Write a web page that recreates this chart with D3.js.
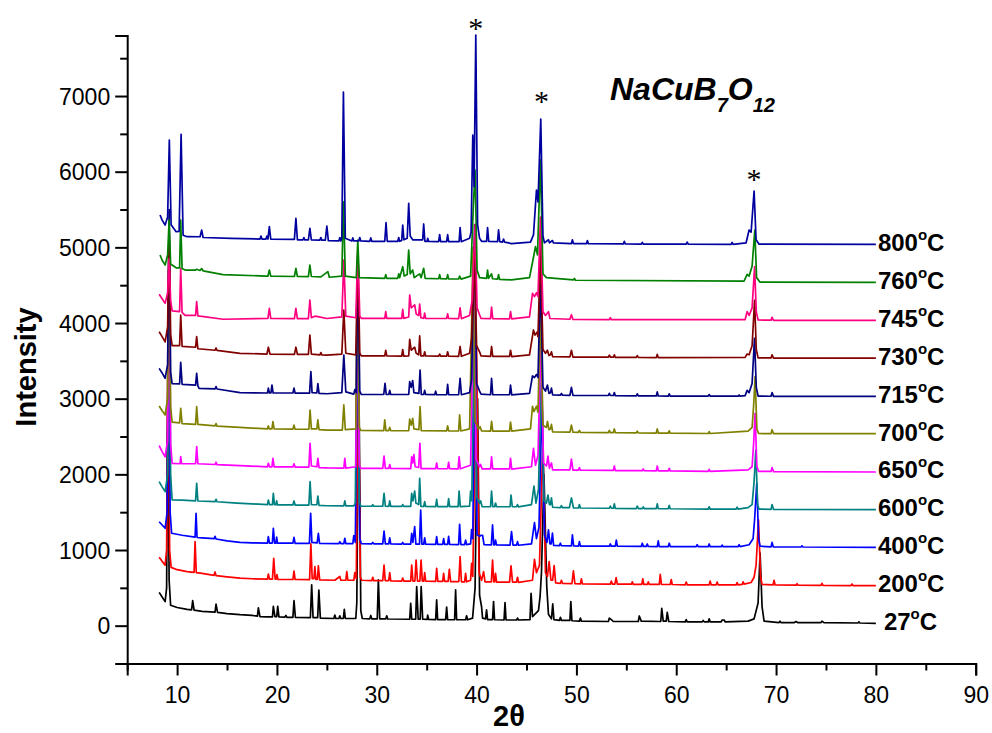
<!DOCTYPE html>
<html>
<head>
<meta charset="utf-8">
<script src="https://cdn.jsdelivr.net/npm/d3@7/dist/d3.min.js"></script>
<style>
  body { margin: 0; background: #fff; }
  svg { display: block; }
</style>
</head>
<body>
<svg id="chart" width="992" height="733"></svg>
<script>
// Stacked XRD patterns of NaCuB7O12 annealed at different temperatures.
const temperatures = ["27", "200", "400", "600", "650", "700", "715", "730", "745", "760", "800"];
const offsets = [0, 500, 1000, 1500, 2000, 2500, 3000, 3500, 4000, 4500, 5000];
const colors = ["#000000", "#ff0000", "#0000ff", "#008080", "#ff00ff", "#808000",
                "#000080", "#800000", "#ff0080", "#008000", "#0000a0"];
const xMajorTicks = [10, 20, 30, 40, 50, 60, 70, 80, 90];
const xMinorTicks = [5, 15, 25, 35, 45, 55, 65, 75, 85];
const yMajorTicks = [0, 1000, 2000, 3000, 4000, 5000, 6000, 7000];
const yMinorTicks = [-500, 500, 1500, 2500, 3500, 4500, 5500, 6500, 7500];
// asterisks over the strongest reflections: [2theta, intensity]
const starMarks = [[39.92, 7820], [46.5, 6850], [67.8, 5830]];

// Patterns as flat [2theta, intensity, 2theta, intensity, ...] lists (offset included)
const xrd27 = [8.2,440, 8.5,380, 8.8,318, 8.95,500, 9.06,3300, 9.2,600, 9.35,270, 10,240, 11,215, 11.45,210, 11.56,330, 11.7,205, 12.5,190, 13.8,180, 13.9,285, 14.05,175, 15,160, 16.3,145, 17.5,135, 18.05,125, 18.14,235, 18.3,120, 19,115, 19.55,115, 19.64,255, 19.8,120, 19.98,120, 20.08,255, 20.2,115, 20.8,112, 20.9,135, 21.0,110, 21.6,110, 21.71,330, 21.85,108, 23.35,105, 23.48,540, 23.62,105, 24.08,105, 24.2,470, 24.35,100, 25.7,95, 25.8,140, 25.9,95, 26.2,95, 26.3,130, 26.4,95, 26.65,95, 26.75,215, 26.85,95, 27.9,95, 28.0,300, 28.2,3400, 28.4,200, 28.55,95, 29.3,90, 29.4,135, 29.5,90, 30.05,90, 30.16,604, 30.3,90, 30.9,90, 31.0,130, 31.1,88, 33.3,85, 33.4,296, 33.5,85, 33.9,85, 34.0,516, 34.15,85, 34.35,85, 34.45,516, 34.6,85, 35.05,82, 35.1,140, 35.2,82, 35.9,80, 36.0,340, 36.1,80, 36.9,80, 37.0,247, 37.1,80, 37.8,78, 37.9,472, 38.0,78, 38.9,78, 39.0,130, 39.1,78, 39.6,100, 39.85,500, 40.1,3000, 40.3,400, 40.5,250, 40.6,100, 40.9,90, 41.0,210, 41.1,80, 41.6,80, 41.7,318, 41.8,78, 42.75,75, 42.85,304, 42.95,75, 44.0,75, 44.1,100, 44.2,75, 45.35,80, 45.46,428, 45.6,120, 46.2,200, 46.36,383, 46.5,700, 46.75,2000, 47.03,516, 47.2,150, 47.5,90, 47.63,287, 47.75,80, 48.3,70, 48.4,110, 48.5,70, 49.35,70, 49.44,318, 49.55,65, 50.3,60, 50.4,100, 50.5,60, 53.2,55, 53.3,100, 53.5,80, 53.7,55, 56.2,55, 56.3,128, 56.5,60, 58.45,55, 58.55,230, 58.7,60, 59.0,60, 59.1,177, 59.25,55, 60.9,50, 61.0,80, 61.1,50, 62.6,50, 62.7,70, 62.8,50, 63.2,50, 63.3,90, 63.4,50, 64.5,50, 64.6,75, 64.8,75, 64.9,50, 67.2,60, 67.8,90, 68.2,300, 68.4,960, 68.6,250, 68.8,60, 70.3,40, 70.4,60, 70.5,40, 71.8,40, 72,55, 72.2,40, 74.5,40, 74.6,60, 74.8,40, 78.2,35, 78.3,50, 78.4,35, 80,30];

const xrd200 = [8.2,904, 8.5,850, 8.8,800, 8.95,1000, 9.1,4200, 9.25,1000, 9.4,770, 10,740, 11,715, 11.7,705, 11.8,1110, 11.92,700, 12.5,690, 13.7,665, 13.8,710, 13.9,662, 15,645, 16.3,628, 17.5,620, 19.05,615, 19.14,683, 19.25,615, 19.55,615, 19.68,890, 19.82,615, 19.92,615, 20.0,676, 20.1,612, 21.6,610, 21.71,720, 21.82,610, 23.27,608, 23.4,1080, 23.53,620, 23.7,620, 23.8,780, 23.9,610, 24.05,610, 24.15,790, 24.28,605, 25.8,600, 26.3,650, 26.4,600, 26.9,600, 27.0,714, 27.1,600, 27.7,600, 27.8,700, 27.95,620, 28.15,3800, 28.35,640, 28.5,600, 29.5,595, 29.6,640, 29.7,595, 30.6,595, 30.73,802, 30.85,595, 31.2,595, 31.3,700, 31.4,592, 32.5,590, 32.6,630, 32.7,590, 33.4,590, 33.5,802, 33.62,590, 33.82,590, 33.94,868, 34.08,590, 34.32,590, 34.44,868, 34.56,590, 34.7,590, 34.8,700, 34.9,588, 35.9,585, 36.0,758, 36.12,585, 36.6,585, 36.7,690, 36.8,585, 37.15,585, 37.27,745, 37.4,583, 38.22,583, 38.35,912, 38.48,580, 38.8,580, 38.9,690, 39.0,580, 39.4,600, 39.5,824, 39.62,650, 40.0,3700, 40.25,700, 40.5,600, 40.7,714, 40.85,580, 41.48,578, 41.6,868, 41.72,578, 41.8,578, 41.9,690, 42.0,575, 43.3,575, 43.45,790, 43.6,575, 44.0,575, 44.1,640, 44.2,572, 45.6,600, 45.8,877, 46.0,700, 46.3,800, 46.65,2480, 46.9,700, 47.1,650, 47.27,846, 47.45,600, 47.62,600, 47.77,793, 47.92,565, 48.4,560, 48.5,600, 48.6,560, 49.55,555, 49.7,723, 49.85,555, 50.4,552, 50.5,620, 50.6,552, 53.4,550, 53.5,590, 53.6,550, 53.85,550, 53.98,634, 54.1,548, 55.5,548, 55.6,580, 55.7,546, 56.55,546, 56.65,620, 56.75,545, 57.1,545, 57.2,580, 57.3,545, 58.3,545, 58.4,679, 58.52,544, 59.4,544, 59.5,610, 59.6,544, 60.9,540, 61.0,575, 61.1,540, 63.3,540, 63.4,590, 63.5,540, 64.0,540, 64.1,575, 64.2,540, 66.0,540, 66.1,570, 66.2,540, 66.6,545, 66.7,580, 66.8,550, 67.5,570, 67.8,640, 68.0,800, 68.24,1397, 68.45,650, 68.6,545, 69.7,540, 69.8,600, 69.9,538, 72.0,535, 72.1,555, 72.2,535, 74.5,533, 74.6,560, 74.7,533, 77.5,530, 77.6,550, 77.7,530, 80,528];

const xrd400 = [8.2,1374, 8.5,1330, 8.8,1287, 9.0,1500, 9.15,4700, 9.3,1500, 9.45,1221, 10.5,1195, 11.8,1170, 11.9,1485, 12.0,1165, 12.5,1160, 13.7,1150, 13.8,1180, 13.9,1145, 15.0,1120, 16.3,1100, 17.5,1095, 19.05,1092, 19.14,1176, 19.25,1092, 19.54,1092, 19.64,1287, 19.76,1092, 19.9,1090, 19.97,1170, 20.05,1090, 21.6,1090, 21.71,1168, 21.82,1088, 23.25,1088, 23.38,1485, 23.5,1100, 24.03,1095, 24.15,1221, 24.27,1088, 26.2,1085, 26.3,1110, 26.4,1085, 26.7,1085, 26.8,1155, 26.9,1085, 27.6,1085, 27.7,1190, 27.85,1100, 28.1,4100, 28.3,1150, 28.45,1085, 29.5,1082, 29.6,1100, 29.7,1082, 30.6,1080, 30.73,1251, 30.86,1080, 31.2,1080, 31.3,1160, 31.4,1080, 32.5,1078, 32.6,1100, 32.7,1078, 33.4,1078, 33.5,1221, 33.62,1100, 33.8,1308, 33.92,1078, 34.28,1078, 34.4,1529, 34.52,1078, 34.7,1076, 34.8,1160, 34.9,1076, 35.9,1075, 36.0,1176, 36.1,1075, 36.6,1074, 36.7,1150, 36.8,1074, 37.1,1074, 37.2,1180, 37.3,1074, 38.2,1072, 38.3,1340, 38.42,1072, 38.8,1072, 38.9,1130, 39.0,1072, 39.4,1080, 39.5,1270, 39.62,1150, 39.85,4000, 40.05,1200, 40.3,1180, 40.45,1195, 40.6,1195, 40.75,1070, 41.48,1068, 41.6,1331, 41.72,1068, 41.8,1068, 41.9,1130, 42.0,1066, 43.35,1065, 43.5,1242, 43.65,1065, 44.0,1065, 44.1,1110, 44.2,1063, 45.5,1080, 45.8,1361, 46.0,1150, 46.25,1300, 46.55,3000, 46.8,1200, 47.05,1100, 47.2,1265, 47.35,1080, 47.48,1080, 47.6,1225, 47.72,1060, 48.3,1058, 48.4,1090, 48.5,1056, 49.5,1055, 49.6,1200, 49.72,1055, 50.2,1052, 50.3,1110, 50.4,1052, 53.3,1050, 53.4,1080, 53.5,1050, 53.9,1050, 54.0,1130, 54.1,1050, 56.5,1048, 56.6,1090, 56.7,1048, 57.0,1048, 57.1,1080, 57.2,1048, 58.1,1046, 58.2,1120, 58.3,1046, 59.2,1046, 59.3,1090, 59.4,1046, 62.0,1044, 62.1,1070, 62.2,1044, 63.2,1044, 63.3,1080, 63.4,1044, 64.5,1044, 64.6,1065, 64.7,1044, 66.2,1044, 66.3,1070, 66.4,1044, 67.3,1070, 67.7,1150, 67.85,1400, 68.07,1881, 68.25,1150, 68.4,1050, 69.5,1042, 69.6,1100, 69.72,1042, 72.5,1040, 72.6,1055, 72.7,1040, 80,1036];

const xrd600 = [8.2,1903, 8.5,1835, 8.8,1771, 9.05,2000, 9.2,5200, 9.35,2000, 9.5,1661, 10.5,1660, 11.85,1650, 11.96,1882, 12.08,1648, 13.8,1640, 13.9,1670, 14.0,1638, 16.0,1620, 17.5,1610, 19.05,1600, 19.14,1661, 19.25,1600, 19.55,1600, 19.64,1750, 19.75,1600, 19.9,1598, 19.97,1650, 20.05,1596, 21.6,1596, 21.71,1648, 21.82,1594, 23.2,1594, 23.32,1903, 23.45,1600, 24.0,1598, 24.1,1714, 24.22,1590, 25.0,1585, 26.7,1583, 26.8,1650, 26.9,1583, 27.7,1583, 27.85,1620, 28.05,4400, 28.25,1640, 28.4,1580, 29.5,1578, 29.6,1600, 29.7,1578, 30.6,1578, 30.73,1750, 30.86,1578, 31.2,1577, 31.3,1650, 31.4,1577, 32.5,1576, 32.6,1600, 32.7,1576, 33.4,1576, 33.5,1750, 33.62,1650, 33.8,1780, 33.92,1620, 34.2,1600, 34.3,1948, 34.42,1576, 34.7,1575, 34.8,1640, 34.9,1575, 35.9,1574, 36.0,1670, 36.1,1574, 37.1,1574, 37.2,1680, 37.3,1574, 38.15,1573, 38.25,1780, 38.37,1573, 39.3,1580, 39.4,1780, 39.52,1650, 39.8,4500, 40.0,1700, 40.3,1620, 40.4,1650, 40.55,1573, 41.4,1572, 41.5,1780, 41.62,1572, 41.8,1572, 41.9,1620, 42.0,1572, 43.35,1572, 43.45,1727, 43.58,1572, 44.0,1572, 44.1,1600, 44.2,1571, 45.5,1600, 45.75,1846, 45.95,1620, 46.2,1800, 46.5,3400, 46.75,1650, 47.0,1620, 47.15,1727, 47.3,1600, 47.4,1600, 47.5,1690, 47.62,1565, 48.4,1560, 48.5,1585, 48.6,1560, 49.3,1560, 49.5,1690, 49.7,1558, 50.2,1555, 50.3,1600, 50.4,1555, 53.3,1552, 53.4,1580, 53.5,1552, 53.7,1552, 53.8,1610, 53.9,1550, 56.0,1548, 56.1,1580, 56.2,1548, 56.6,1548, 56.7,1570, 56.8,1548, 58.0,1546, 58.1,1610, 58.2,1546, 59.2,1545, 59.3,1590, 59.4,1545, 63.2,1540, 63.3,1570, 63.4,1540, 66.0,1540, 66.1,1565, 66.2,1540, 67.2,1560, 67.6,1600, 67.8,1900, 67.97,2322, 68.15,1600, 68.3,1540, 69.5,1538, 69.6,1600, 69.75,1536, 80,1533];

const xrd650 = [8.2,2379, 8.5,2300, 8.8,2233, 9.05,2450, 9.2,5000, 9.35,2400, 9.5,2146, 10.3,2140, 10.36,2233, 10.45,2140, 11.85,2140, 11.96,2366, 12.08,2140, 13.8,2130, 13.9,2160, 14.0,2128, 16.3,2115, 19.05,2100, 19.14,2146, 19.25,2100, 19.5,2100, 19.6,2212, 19.72,2100, 21.6,2098, 21.71,2140, 21.82,2096, 23.2,2096, 23.32,2410, 23.45,2110, 24.0,2100, 24.1,2212, 24.22,2090, 25.0,2085, 26.7,2083, 26.8,2212, 26.9,2083, 27.9,2100, 28.05,4600, 28.25,2120, 28.4,2080, 30.6,2078, 30.73,2240, 30.86,2078, 31.2,2078, 31.3,2130, 31.4,2078, 33.4,2076, 33.5,2230, 33.62,2150, 33.72,2260, 33.85,2100, 34.2,2090, 34.32,2410, 34.44,2076, 35.9,2075, 36.0,2150, 36.1,2075, 37.1,2074, 37.2,2160, 37.3,2074, 38.15,2073, 38.25,2230, 38.37,2073, 39.4,2120, 39.75,4800, 39.95,2200, 40.3,2100, 40.4,2130, 40.55,2073, 41.4,2072, 41.5,2230, 41.62,2072, 43.3,2072, 43.4,2210, 43.52,2070, 45.5,2100, 45.7,2344, 45.9,2120, 46.15,2250, 46.45,3800, 46.7,2150, 47.0,2110, 47.15,2240, 47.3,2080, 47.5,2150, 47.62,2060, 49.35,2058, 49.5,2200, 49.65,2057, 50.2,2055, 50.3,2090, 50.4,2055, 53.7,2052, 53.8,2110, 53.9,2050, 56.6,2048, 56.7,2070, 56.8,2048, 58.0,2046, 58.1,2110, 58.2,2046, 59.2,2045, 59.3,2080, 59.4,2045, 63.2,2040, 63.3,2065, 63.4,2040, 67.2,2060, 67.6,2100, 67.75,2400, 67.9,2807, 68.08,2100, 68.25,2040, 69.5,2038, 69.6,2090, 69.75,2036, 80,2031];

const xrd700 = [8.2,2903, 8.5,2840, 8.8,2785, 9.05,3000, 9.2,5300, 9.35,2900, 9.5,2690, 10.25,2680, 10.36,2873, 10.5,2670, 11.85,2660, 11.96,2894, 12.08,2660, 13.8,2640, 13.9,2670, 14.0,2638, 16.3,2620, 19.05,2600, 19.14,2640, 19.25,2600, 19.5,2600, 19.6,2696, 19.72,2600, 21.6,2598, 21.71,2650, 21.82,2596, 23.2,2596, 23.32,2850, 23.45,2600, 24.0,2600, 24.1,2720, 24.22,2590, 25.0,2585, 26.55,2585, 26.7,2917, 26.85,2590, 27.9,2600, 28.05,4700, 28.25,2620, 28.4,2580, 30.7,2578, 30.8,2720, 30.92,2578, 31.2,2578, 31.3,2620, 31.4,2578, 33.2,2576, 33.3,2730, 33.45,2650, 33.6,2740, 33.72,2600, 34.22,2590, 34.34,2894, 34.46,2576, 37.0,2574, 37.1,2640, 37.2,2574, 38.2,2573, 38.3,2785, 38.42,2573, 39.3,2600, 39.65,5000, 39.85,2700, 40.2,2600, 40.35,2630, 40.5,2573, 41.4,2572, 41.5,2700, 41.62,2572, 43.3,2572, 43.4,2690, 43.52,2570, 45.4,2600, 45.6,2900, 45.75,2830, 46.0,2900, 46.15,2820, 46.4,4200, 46.65,2650, 47.0,2620, 47.1,2700, 47.25,2590, 47.4,2600, 47.5,2660, 47.62,2560, 49.35,2558, 49.5,2650, 49.65,2557, 50.2,2555, 50.3,2580, 50.4,2555, 53.2,2552, 53.3,2580, 53.4,2552, 53.7,2552, 53.8,2600, 53.9,2550, 56.0,2548, 56.1,2570, 56.2,2548, 58.0,2546, 58.1,2600, 58.2,2546, 59.2,2545, 59.3,2575, 59.4,2545, 63.2,2540, 63.3,2565, 63.4,2540, 67.2,2570, 67.6,2620, 67.75,2900, 67.9,3291, 68.08,2600, 68.25,2540, 69.5,2538, 69.6,2590, 69.75,2537, 80,2537];

const xrd715 = [8.2,3401, 8.5,3340, 8.8,3270, 9.05,3450, 9.2,5500, 9.35,3350, 9.5,3200, 10.25,3195, 10.36,3480, 10.5,3190, 11.85,3180, 11.96,3335, 12.08,3170, 12.2,3137, 13.8,3130, 13.9,3160, 14.0,3128, 16.3,3080, 19.05,3075, 19.14,3140, 19.25,3075, 19.4,3075, 19.5,3181, 19.62,3075, 21.6,3075, 21.71,3140, 21.82,3073, 23.27,3073, 23.4,3357, 23.52,3080, 24.0,3075, 24.1,3200, 24.22,3070, 25.0,3065, 26.5,3080, 26.7,3577, 26.9,3090, 27.7,3060, 27.8,3120, 27.95,3080, 28.1,4800, 28.3,3100, 28.45,3055, 30.7,3055, 30.83,3203, 30.95,3055, 31.2,3055, 31.3,3110, 31.4,3055, 33.2,3055, 33.3,3225, 33.45,3150, 33.6,3240, 33.72,3080, 34.22,3070, 34.34,3379, 34.46,3055, 34.7,3055, 34.8,3110, 34.9,3055, 35.8,3053, 35.9,3100, 36.0,3053, 37.0,3052, 37.1,3190, 37.2,3052, 38.2,3052, 38.35,3270, 38.48,3052, 39.3,3080, 39.5,3250, 39.8,5300, 40.0,3200, 40.3,3100, 40.45,3060, 41.4,3052, 41.5,3270, 41.62,3052, 43.3,3052, 43.4,3180, 43.52,3050, 45.3,3070, 45.6,3300, 45.8,3280, 46.0,3320, 46.15,3280, 46.4,4600, 46.65,3150, 46.9,3100, 47.1,3180, 47.25,3070, 47.4,3080, 47.5,3140, 47.62,3050, 48.4,3048, 48.5,3070, 48.6,3048, 49.35,3045, 49.5,3150, 49.65,3045, 53.2,3042, 53.3,3070, 53.4,3042, 53.7,3042, 53.8,3080, 53.9,3040, 56.0,3038, 56.1,3065, 56.2,3038, 58.0,3036, 58.1,3090, 58.2,3036, 59.2,3035, 59.3,3065, 59.4,3035, 63.2,3033, 63.3,3055, 63.4,3033, 66.2,3033, 66.3,3050, 66.4,3033, 66.9,3040, 67.1,3110, 67.3,3080, 67.6,3200, 67.84,3798, 68.02,3150, 68.2,3035, 69.5,3032, 69.6,3080, 69.75,3031, 80,3031];

const xrd730 = [8.2,3885, 8.5,3820, 8.8,3750, 9.05,3950, 9.2,5300, 9.35,3850, 9.5,3700, 10.25,3700, 10.36,4106, 10.5,3690, 11.85,3680, 11.96,3819, 12.08,3660, 13.8,3640, 13.9,3670, 14.0,3638, 16.3,3600, 19.0,3590, 19.14,3680, 19.3,3590, 21.75,3585, 21.9,3680, 22.05,3585, 23.15,3585, 23.3,3841, 23.45,3590, 24.3,3580, 24.4,3610, 24.5,3578, 25.0,3575, 26.5,3590, 26.7,4172, 26.9,3600, 27.9,3580, 28.1,4900, 28.3,3600, 28.45,3565, 30.8,3565, 30.9,3640, 31.0,3565, 32.5,3563, 32.6,3650, 32.7,3563, 33.2,3565, 33.3,3785, 33.45,3640, 33.8,3680, 33.95,3600, 34.2,3580, 34.3,3829, 34.42,3565, 34.7,3565, 34.8,3620, 34.9,3565, 36.2,3562, 36.3,3590, 36.4,3562, 37.0,3562, 37.1,3620, 37.2,3562, 38.2,3560, 38.35,3690, 38.48,3560, 39.3,3600, 39.5,3800, 39.8,4900, 40.0,3700, 40.3,3620, 40.45,3565, 41.4,3560, 41.5,3690, 41.62,3560, 43.3,3558, 43.4,3640, 43.52,3557, 45.3,3580, 45.7,3908, 45.85,3840, 46.05,3880, 46.15,3820, 46.4,5000, 46.65,3650, 46.9,3600, 47.1,3640, 47.25,3570, 47.4,3580, 47.5,3620, 47.62,3555, 49.35,3552, 49.5,3640, 49.65,3550, 53.2,3548, 53.3,3575, 53.4,3548, 53.7,3548, 53.8,3580, 53.9,3546, 56.0,3545, 56.1,3570, 56.2,3545, 58.0,3543, 58.1,3585, 58.2,3543, 66.9,3545, 67.1,3590, 67.3,3580, 67.6,3700, 67.85,4300, 68.02,3650, 68.2,3540, 69.5,3538, 69.6,3580, 69.75,3537, 80,3537];

const xrd745 = [8.2,4380, 8.5,4320, 8.8,4260, 9.05,4400, 9.2,4850, 9.35,4300, 9.5,4160, 10.25,4150, 10.36,4723, 10.5,4140, 10.8,4100, 11.85,4100, 11.96,4282, 12.08,4095, 12.3,4090, 14.6,4050, 19.1,4060, 19.24,4194, 19.38,4060, 21.75,4058, 21.9,4194, 22.05,4058, 23.15,4058, 23.3,4304, 23.45,4070, 23.8,4090, 24.1,4085, 25.0,4060, 26.5,4080, 26.7,4833, 26.9,4090, 27.9,4070, 28.1,4950, 28.3,4090, 28.45,4062, 30.8,4062, 30.9,4150, 31.0,4062, 32.5,4062, 32.6,4180, 32.7,4062, 33.2,4080, 33.3,4370, 33.45,4200, 33.8,4240, 33.95,4120, 34.2,4100, 34.3,4250, 34.42,4070, 34.7,4062, 34.8,4130, 34.9,4062, 37.0,4060, 37.1,4120, 37.2,4060, 38.2,4058, 38.35,4200, 38.48,4058, 39.3,4100, 39.55,4300, 39.85,5300, 40.05,4200, 40.3,4110, 40.45,4060, 41.4,4058, 41.5,4210, 41.62,4058, 43.3,4055, 43.4,4150, 43.52,4055, 45.3,4080, 45.6,4393, 45.8,4350, 46.0,4400, 46.15,4350, 46.4,5400, 46.65,4150, 46.9,4100, 47.2,4150, 47.35,4060, 49.35,4050, 49.5,4110, 49.65,4048, 53.3,4045, 53.4,4070, 53.5,4045, 66.9,4045, 67.1,4150, 67.3,4100, 67.6,4200, 67.85,4744, 68.02,4150, 68.2,4040, 69.5,4038, 69.6,4075, 69.75,4036, 80,4036];

const xrd760 = [8.29,4899, 8.5,4830, 8.8,4767, 9.05,4900, 9.2,5360, 9.35,4780, 9.9,4730, 10.25,4730, 10.36,5361, 10.5,4720, 10.8,4700, 11.85,4700, 11.96,4710, 12.3,4695, 12.46,4720, 12.6,4690, 14.6,4640, 18.9,4620, 19.1,4620, 19.24,4700, 19.38,4620, 21.75,4615, 21.9,4723, 22.05,4615, 23.15,4612, 23.3,4767, 23.45,4615, 24.4,4610, 25.1,4680, 25.25,4605, 26.5,4620, 26.66,5600, 26.85,4620, 27.95,4600, 28.1,5097, 28.25,4600, 30.8,4590, 30.9,4640, 31.0,4590, 32.1,4590, 32.2,4650, 32.3,4600, 32.6,4744, 32.75,4620, 33.05,4640, 33.2,4965, 33.35,4650, 33.6,4700, 33.75,4600, 34.3,4650, 34.45,4600, 34.7,4723, 34.85,4590, 36.2,4585, 36.3,4640, 36.4,4585, 37.0,4583, 37.1,4640, 37.2,4583, 38.2,4582, 38.3,4620, 38.45,4580, 39.4,4620, 39.7,5620, 39.85,6020, 40.05,4700, 40.3,4600, 41.0,4590, 41.1,4700, 41.2,4590, 41.5,4650, 41.6,4585, 42.1,4580, 42.2,4640, 42.3,4578, 43.5,4570, 45.3,4600, 45.6,4800, 45.9,5009, 46.1,4900, 46.4,6155, 46.65,4650, 47.0,4600, 49.7,4570, 49.8,4590, 49.9,4565, 66.8,4555, 67.1,4644, 67.3,4620, 67.6,4750, 67.87,5229, 68.05,4600, 68.4,4540, 80,4538];

const xrd800 = [8.29,5428, 8.5,5360, 8.8,5295, 9.05,5400, 9.22,6417, 9.4,5300, 9.9,5207, 10.2,5210, 10.4,6493, 10.6,5160, 11.0,5141, 12.3,5140, 12.46,5229, 12.6,5130, 15.4,5120, 18.3,5110, 18.4,5150, 18.5,5110, 18.9,5110, 19.0,5150, 19.1,5110, 19.24,5273, 19.38,5110, 21.75,5105, 21.9,5384, 22.05,5100, 22.6,5100, 22.7,5130, 22.8,5100, 23.15,5100, 23.3,5252, 23.45,5100, 24.3,5095, 24.4,5130, 24.5,5095, 24.85,5095, 25.0,5282, 25.15,5090, 26.2,5085, 26.3,5130, 26.4,5085, 26.5,5120, 26.66,7053, 26.85,5120, 27.5,5085, 27.6,5125, 27.7,5085, 28.2,5085, 28.3,5130, 28.4,5085, 29.3,5080, 29.4,5125, 29.5,5080, 30.8,5080, 30.93,5326, 31.05,5080, 32.1,5078, 32.2,5130, 32.3,5080, 32.5,5090, 32.6,5295, 32.72,5100, 33.05,5120, 33.2,5582, 33.35,5150, 33.6,5100, 34.6,5100, 34.7,5309, 34.82,5080, 35.05,5078, 35.1,5120, 35.2,5078, 36.2,5076, 36.3,5170, 36.4,5076, 37.0,5075, 37.1,5170, 37.2,5075, 38.25,5075, 38.35,5260, 38.47,5075, 39.3,5120, 39.45,5200, 39.62,6485, 39.75,5800, 39.92,7806, 40.1,5300, 40.3,5120, 40.5,5080, 41.0,5078, 41.1,5260, 41.22,5078, 42.1,5075, 42.2,5230, 42.32,5075, 42.6,5070, 42.7,5110, 42.8,5070, 43.5,5050, 45.4,5070, 45.7,5165, 46.0,5758, 46.15,5600, 46.43,6696, 46.65,5150, 46.8,5060, 47.2,5100, 47.3,5060, 47.6,5090, 47.7,5060, 49.5,5050, 49.6,5100, 49.7,5050, 51.0,5048, 51.1,5090, 51.2,5048, 54.7,5045, 54.8,5080, 54.9,5045, 56.5,5044, 56.6,5065, 56.7,5044, 61.0,5042, 61.1,5070, 61.2,5042, 65.5,5040, 65.6,5065, 65.7,5040, 67.0,5060, 67.3,5229, 67.5,5200, 67.8,5745, 68.0,5100, 68.3,5042, 80,5040];

const patterns = [xrd27, xrd200, xrd400, xrd600, xrd650, xrd700, xrd715, xrd730, xrd745, xrd760, xrd800];

// ---------- drawing ----------
const svg = d3.select("#chart");
const x = d3.scaleLinear().domain([5, 90]).range([127.2, 975.7]);
const y = d3.scaleLinear().domain([-500, 7800]).range([663.5, 35.5]);

const toPoints = flat => d3.range(0, flat.length, 2)
  .map(i => [flat[i], flat[i + 1]])
  .sort((a, b) => a[0] - b[0]);

const line = d3.line().x(d => x(d[0])).y(d => y(d[1]));

const plot = svg.append("g");
patterns.forEach((flat, i) => {
  plot.append("path")
    .attr("d", line(toPoints(flat)))
    .attr("fill", "none")
    .attr("stroke", colors[i])
    .attr("stroke-width", 1.7)
    .attr("stroke-linejoin", "round");
});

// axes
const axisFont = "'Liberation Sans', Arial, sans-serif";
const xAxis = svg.append("g").attr("transform", `translate(0,${y(-500)})`);
xAxis.call(d3.axisBottom(x).tickValues(xMajorTicks).tickSize(12).tickPadding(11).tickFormat(d3.format("d")));
const xMinor = svg.append("g").attr("transform", `translate(0,${y(-500)})`);
xMinor.call(d3.axisBottom(x).tickValues(xMinorTicks).tickSize(7).tickFormat(""));

const yAxis = svg.append("g").attr("transform", `translate(${x(5)},0)`);
yAxis.call(d3.axisLeft(y).tickValues(yMajorTicks).tickSize(12).tickPadding(5).tickFormat(d3.format("d")));
const yMinor = svg.append("g").attr("transform", `translate(${x(5)},0)`);
yMinor.call(d3.axisLeft(y).tickValues(yMinorTicks).tickSize(7).tickFormat(""));

[xAxis, xMinor, yAxis, yMinor].forEach(g => {
  g.select(".domain").attr("stroke", "#000").attr("stroke-width", 2);
  g.selectAll(".tick line").attr("stroke", "#000").attr("stroke-width", 2);
  g.selectAll(".tick text")
    .attr("fill", "#000")
    .style("font-family", axisFont)
    .style("font-size", "23px");
});
xMinor.select(".domain").remove();
yMinor.select(".domain").remove();
yAxis.selectAll(".tick text").attr("dy", "0.36em");

// axis titles
svg.append("text")
  .attr("transform", `translate(36,367) rotate(-90)`)
  .attr("text-anchor", "middle")
  .style("font-family", axisFont)
  .style("font-weight", "bold")
  .style("font-size", "29px")
  .text("Intensity");

svg.append("text")
  .attr("x", 509).attr("y", 726)
  .attr("text-anchor", "middle")
  .style("font-family", axisFont)
  .style("font-weight", "bold")
  .style("font-size", "29px")
  .text("2θ");

// compound name
const title = svg.append("text")
  .attr("x", 610).attr("y", 100)
  .style("font-family", axisFont)
  .style("font-weight", "bold")
  .style("font-style", "italic")
  .style("font-size", "32px");
title.append("tspan").text("NaCuB");
title.append("tspan").attr("dy", 12).style("font-size", "20px").text("7");
title.append("tspan").attr("dy", -12).text("O");
title.append("tspan").attr("dy", 12).style("font-size", "20px").text("12");

// temperature labels at the right end of each pattern
temperatures.forEach((t, i) => {
  const lbl = svg.append("text")
    .attr("x", x(80) + (i === 0 ? 8 : 2))
    .attr("y", y(offsets[i]) + 4)
    .style("font-family", axisFont)
    .style("font-weight", "bold")
    .style("font-size", "24px")
    .attr("fill", "#000");
  lbl.append("tspan").text(t);
  lbl.append("tspan").attr("dy", -11).style("font-size", "15px").text("o");
  lbl.append("tspan").attr("dy", 11).text("C");
});

// asterisks over the strongest reflections
svg.selectAll(".star").data(starMarks).enter().append("text")
  .attr("class", "star")
  .attr("x", d => x(d[0]))
  .attr("y", d => y(d[1]) + 4)
  .attr("text-anchor", "middle")
  .style("font-family", "'Liberation Serif', 'Times New Roman', serif")
  .style("font-size", "30px")
  .text("*");
</script>
</body>
</html>
